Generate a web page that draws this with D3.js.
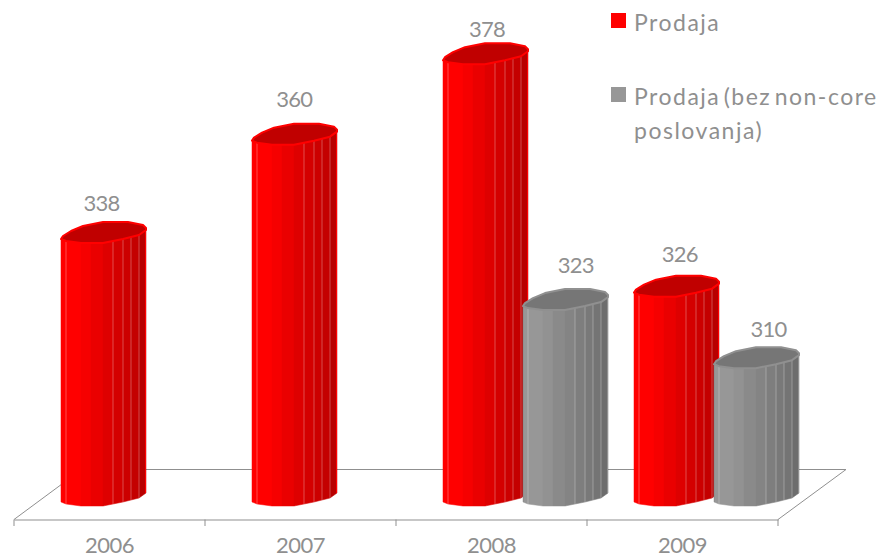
<!DOCTYPE html>
<html>
<head>
<meta charset="utf-8">
<script src="https://cdn.jsdelivr.net/npm/d3@7"></script>
<style>
    html, body { margin: 0; padding: 0; background: #fff; }
    text { font-family: Lato, sans-serif; fill: #8f8f8f; }
</style>
</head>
<body>
<div id="chart"></div>
<script>
// Data
const years = ['2006', '2007', '2008', '2009'];
const prodaja = [338, 360, 378, 326];
const prodajaBezNonCore = [null, null, 323, 310];
const legendLabels = ['Prodaja', ['Prodaja (bez non-core', 'poslovanja)']];

const width = 879, height = 558;

const svg = d3.select('#chart').append('svg')
    .attr('width', width)
    .attr('height', height)
    .style('display', 'block');

// Scales
const x = d3.scaleBand().domain(years).range([14, 778]);
const y = d3.scaleLinear().domain([280, 378]).range([498.3, 60.2]);
const barBottom = 502;

// Cylinder outline, relative to the left edge of the bar
const barWidth = 85;
const front = [[0, 0], [5, 2], [20, 4], [30, 4], [42, 4], [52, 2], [62, 0], [70, -2], [78, -4], [85, -9]];
const capBack = [[85, -11], [82, -14], [67, -17], [42, -17], [22, -13], [10, -8], [2, -3], [0, 0]];
const redShades = ['#ff0000', '#ff0000', '#f60000', '#ea0000', '#de0000', '#d40000', '#cc0000', '#c40000', '#b80000'];
const greyShades = ['#979797', '#979797', '#929292', '#8a8a8a', '#848484', '#7e7e7e', '#797979', '#747474', '#6d6d6d'];

// Small hand nudges, the labels do not follow the bars exactly in the original
const redLabelNudge = [0, -6, 5, -3];
const greyLabelNudge = [0, 0, -5, 1];

// Floor
const floor = svg.append('g')
    .attr('fill', 'none')
    .attr('stroke', '#8f8f8f')
    .attr('stroke-width', 1);
floor.append('path').attr('d', d3.line()([[14, 519.5], [62, 484]]));
floor.append('path').attr('d', d3.line()([[62, 469.5], [846, 469.5], [778, 519.5]]));

// Axis
const axis = svg.append('g')
    .attr('transform', 'translate(0,519.5)')
    .call(d3.axisBottom(x).tickSize(0).tickPadding(18));
axis.select('.domain').attr('stroke', '#8f8f8f').attr('stroke-width', 1.2);
axis.selectAll('.tick text')
    .style('font-size', '22px')
    .style('letter-spacing', '-0.5px')
    .attr('fill', null);
svg.append('g').selectAll('line')
    .data(years.concat('end'))
    .enter()
    .append('line')
    .attr('x1', (d, i) => 14 + i * x.step())
    .attr('x2', (d, i) => 14 + i * x.step())
    .attr('y1', 519.5)
    .attr('y2', 526)
    .attr('stroke', '#8f8f8f');

const line = d3.line();

function drawBar(year, value, offset, labelOffset, labelNudge, shades, capColor, edgeColor) {
    const left = x(year) + x.bandwidth() / 2 - 48.5 + offset;
    const top = y(value);
    const g = svg.append('g').attr('transform', `translate(${left},0)`);

    // Vertical facets
    d3.pairs(front).forEach(([a, b], i) => {
        g.append('path')
            .attr('d', line([[a[0], top + a[1]], [b[0], top + b[1]], [b[0], barBottom + b[1]], [a[0], barBottom + a[1]]]) + 'Z')
            .attr('fill', shades[i])
            .attr('stroke', shades[i])
            .attr('stroke-width', 0.5);
    });

    // Light seams, only where the facets are visibly split
    [5, 52, 62, 70, 78].forEach(dx => {
        const dy = front.find(p => p[0] === dx)[1];
        g.append('line')
            .attr('x1', dx).attr('x2', dx)
            .attr('y1', top + dy).attr('y2', barBottom + dy)
            .attr('stroke', '#fff')
            .attr('stroke-opacity', 0.3);
    });

    // Side edges
    g.append('path')
        .attr('d', line([[0.5, top], [0.5, barBottom]]))
        .attr('stroke', edgeColor);
    g.append('path')
        .attr('d', line([[barWidth - 0.5, top - 9], [barWidth - 0.5, barBottom - 9]]))
        .attr('stroke', edgeColor);

    // Cap
    g.append('path')
        .attr('d', line(front.concat(capBack)) + 'Z')
        .attr('transform', `translate(0,${top})`)
        .attr('fill', capColor)
        .attr('stroke', edgeColor)
        .attr('stroke-width', 2)
        .attr('stroke-linejoin', 'round');

    // Value label
    svg.append('text')
        .attr('x', left + labelOffset + left * 0.009)
        .attr('y', top - 28 + labelNudge)
        .attr('text-anchor', 'middle')
        .style('font-size', '22px')
        .style('letter-spacing', '-0.8px')
        .text(value);
}

years.forEach((year, i) => drawBar(year, prodaja[i], 0, 40, redLabelNudge[i], redShades, '#c00000', '#ff0000'));
years.forEach((year, i) => {
    if (prodajaBezNonCore[i] !== null) {
        drawBar(year, prodajaBezNonCore[i], 80, 48, greyLabelNudge[i], greyShades, '#767676', '#909090');
    }
});

// Legend
const legend = svg.append('g')
    .style('font-size', '23px')
    .style('letter-spacing', '1.5px')
    .style('word-spacing', '-4px');
legend.append('rect').attr('x', 611).attr('y', 13).attr('width', 15).attr('height', 15).attr('fill', '#ff0000');
legend.append('text').attr('x', 634).attr('y', 31).text(legendLabels[0]);
legend.append('rect').attr('x', 611).attr('y', 87).attr('width', 15).attr('height', 15).attr('fill', '#979797');
legend.append('text').attr('x', 634).attr('y', 105).text(legendLabels[1][0]);
legend.append('text').attr('x', 634).attr('y', 139).text(legendLabels[1][1]);
</script>
</body>
</html>
